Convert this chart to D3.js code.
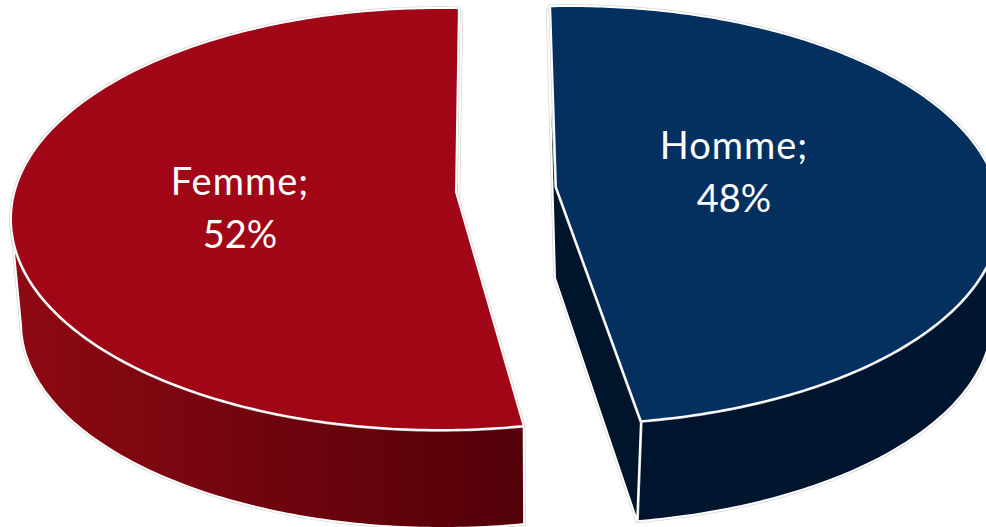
<!DOCTYPE html>
<html>
<head>
<meta charset="utf-8">
<script src="https://cdn.jsdelivr.net/npm/d3@7/dist/d3.min.js"></script>
<style>html,body{margin:0;padding:0;background:#fff;overflow:hidden}svg{display:block}</style>
</head>
<body>
<svg id="chart" width="986" height="527"></svg>
<script>
const categories = ["Homme", "Femme"];
const shares = [48, 52];

const rad = d => d * Math.PI / 180;
const geometry = {
  Homme: {
    top: {cx: 570, cy: 215, rx: 430, ry: 209, ax: 556, ay: 187},
    bottom: {cx: 567, cy: 319, rx: 425, ry: 205, ax: 555, ay: 278},
    startTrim: 0, endTrim: rad(-1.9),
    fill: "#04305f", wallStops: ["#00142d", "#00152f"], cutFill: "#00142b"
  },
  Femme: {
    top: {cx: 440, cy: 219, rx: 429, ry: 211, ax: 456, ay: 192},
    bottom: {cx: 442, cy: 323, rx: 421, ry: 205, ax: 458.5, ay: 197},
    startTrim: 0, endTrim: rad(1.35),
    fill: "#a00616", wallStops: ["#8e0913", "#520008"], cutFill: "#a00616"
  }
};

const pie = d3.pie().sort(null).startAngle(rad(-0.9)).endAngle(rad(359.1));
const arcs = pie(shares);

function rimPoint(e, a) {
  const dx = e.rx * Math.sin(a), dy = -e.ry * Math.cos(a);
  const ox = (e.ax - e.cx) / e.rx, oy = (e.ay - e.cy) / e.ry;
  const ux = dx / e.rx, uy = dy / e.ry;
  const A = ux * ux + uy * uy, B = 2 * (ox * ux + oy * uy), C = ox * ox + oy * oy - 1;
  const t = (-B + Math.sqrt(B * B - 4 * A * C)) / (2 * A);
  return [e.ax + t * dx, e.ay + t * dy];
}
// the matching point of the lower rim: same position on the ellipse
function lowerPoint(s, p) {
  const u = (p[0] - s.top.cx) / s.top.rx, v = (p[1] - s.top.cy) / s.top.ry;
  return [s.bottom.cx + u * s.bottom.rx, s.bottom.cy + v * s.bottom.ry];
}

const svg = d3.select("#chart");
const defs = svg.append("defs");
const line = d3.line();

function outlined(g, d, fill) {
  g.append("path").attr("d", d).attr("fill", "none")
    .attr("stroke", "#d4d4d4").attr("stroke-width", 3.4).attr("stroke-linejoin", "round");
  g.append("path").attr("d", d).attr("fill", fill)
    .attr("stroke", "#fff").attr("stroke-width", 2).attr("stroke-linejoin", "round");
}

arcs.slice().reverse().forEach(arc => {
  const name = categories[arc.index];
  const s = geometry[name];
  const a0 = arc.startAngle + s.startTrim, a1 = arc.endAngle + s.endTrim;
  const angles = d3.range(0, 241).map(i => a0 + (a1 - a0) * i / 240);
  const topRim = angles.map(a => rimPoint(s.top, a));
  const g = svg.append("g").attr("class", "slice-" + name);
  const apex = [s.top.ax, s.top.ay], lowApex = [s.bottom.ax, s.bottom.ay];

  // only the front of the rim carries a visible wall
  const front = topRim.filter(p => p[1] >= s.top.cy);
  const frontLow = front.map(p => lowerPoint(s, p));

  const gradId = "wall-" + name;
  const xs = d3.extent(front.concat(frontLow), p => p[0]);
  const grad = defs.append("linearGradient").attr("id", gradId)
    .attr("gradientUnits", "userSpaceOnUse")
    .attr("x1", xs[0]).attr("x2", xs[1]).attr("y1", 0).attr("y2", 0);
  grad.append("stop").attr("offset", 0).attr("stop-color", s.wallStops[0]);
  grad.append("stop").attr("offset", 1).attr("stop-color", s.wallStops[1]);

  outlined(g, line(front.concat(frontLow.slice().reverse())) + "Z", "url(#" + gradId + ")");

  // cut faces: the visible sliver at the rear and, on Homme, the front face
  if (name === "Homme") {
    const rear = [topRim[0][0] - 2.5, topRim[0][1] + 4];
    outlined(g, line([rear, lowApex, lowerPoint(s, topRim[240]), topRim[240], apex]) + "Z", s.cutFill);
  } else {
    const rear = [topRim[240][0] + 2.5, topRim[240][1] + 4];
    outlined(g, line([rear, lowApex, apex]) + "Z", s.cutFill);
  }

  // top face
  outlined(g, line([apex].concat(topRim)) + "Z", s.fill);
});

const labelPositions = {Homme: [734, 159], Femme: [240, 195]};
arcs.forEach(arc => {
  const name = categories[arc.index];
  const [x, y] = labelPositions[name];
  const t = svg.append("text").attr("text-anchor", "middle")
    .attr("font-family", "Lato, 'Open Sans', sans-serif").attr("font-size", 38).attr("fill", "#fff");
  t.append("tspan").attr("x", x).attr("y", y).attr("letter-spacing", 1).text(name + ";");
  t.append("tspan").attr("x", x).attr("y", y + 53).text(d3.format("d")(arc.value) + "%");
});
</script>
</body>
</html>
